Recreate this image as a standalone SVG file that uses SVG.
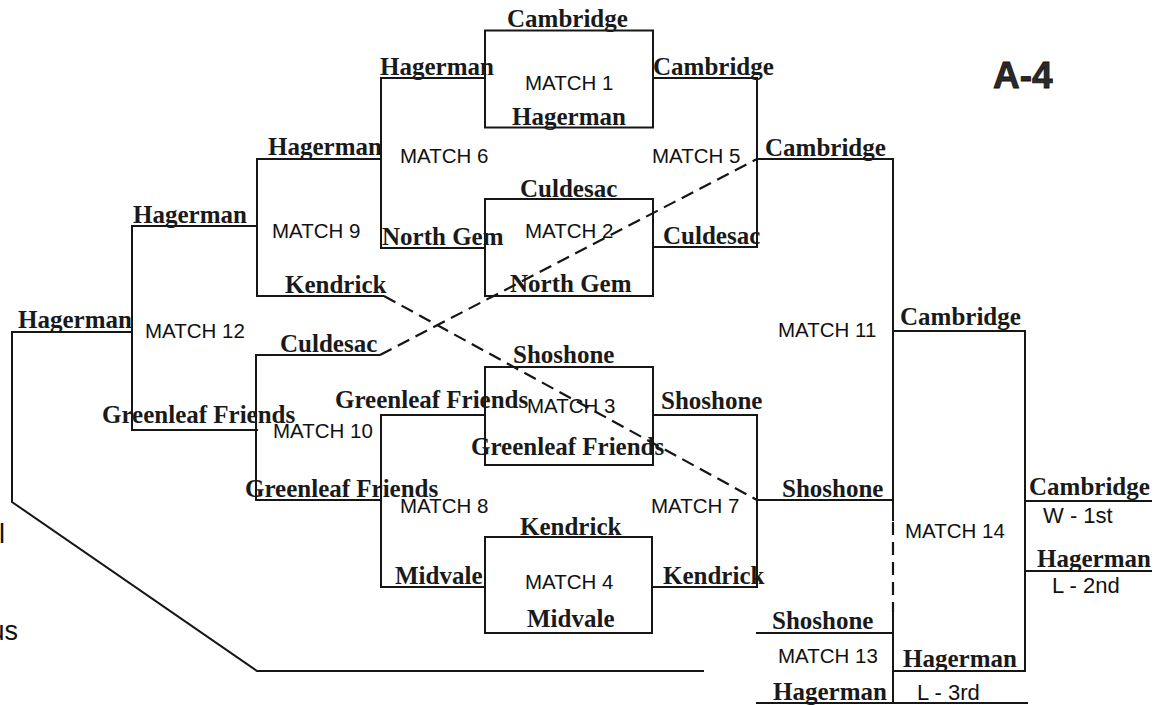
<svg xmlns="http://www.w3.org/2000/svg" width="1169" height="705" viewBox="0 0 1169 705">
<style>
.ln{fill:none;stroke:#161616;stroke-width:2;stroke-linejoin:miter;stroke-linecap:square}
.dash{fill:none;stroke:#161616;stroke-width:2.2;stroke-dasharray:13 7}
.box{fill:none;stroke:#161616;stroke-width:2}
.team{font-family:"Liberation Serif","Times New Roman",serif;font-weight:bold;font-size:25px;fill:#1a1a1a}
.m{font-family:"Liberation Sans",Arial,sans-serif;font-size:20.5px;fill:#111}
.r{font-family:"Liberation Sans",Arial,sans-serif;font-size:22px;fill:#111}
</style>
<rect width="1169" height="705" fill="#fff"/>

<g id="connectors">
<path class="ln" d="M485,78 H381 V248 H485"/>
<path class="ln" d="M653,78 H757 V247 H653"/>
<path class="ln" d="M757,159 H893"/>
<path class="ln" d="M381,159 H257 V296 H383"/>
<path class="ln" d="M257,226 H132 V430 H257"/>
<path class="ln" d="M132,332 H12 V502 L257,671 H703"/>
<path class="ln" d="M379,355 H256 V500 H381"/>
<path class="ln" d="M485,415 H381 V587 H485"/>
<path class="ln" d="M653,415 H757 V587 H653"/>
<path class="ln" d="M757,500 H893"/>
<path class="ln" d="M893,159 V520"/>
<path class="ln" d="M893,612 V703"/>
<path class="dash" d="M893,522 V612"/>
<path class="ln" d="M893,331 H1025 V671 H893"/>
<path class="ln" d="M1025,501 H1151"/>
<path class="ln" d="M1025,571 H1151"/>
<path class="ln" d="M757,633 H893"/>
<path class="ln" d="M757,703 H1027"/>
<path class="dash" d="M380,355 L757,159"/>
<path class="dash" d="M384,296 L757,500"/>
</g>

<g id="match1">
<rect class="box" x="485" y="30.5" width="168" height="97"/>
<text class="team" x="507" y="27">Cambridge</text>
<text class="m" x="525" y="90">MATCH 1</text>
<text class="team" x="512" y="125">Hagerman</text>
</g>
<g id="match2">
<rect class="box" x="485" y="199" width="168" height="97"/>
<text class="team" x="520" y="197">Culdesac</text>
<text class="m" x="525" y="238">MATCH 2</text>
<text class="team" x="510" y="292">North Gem</text>
</g>
<g id="match3">
<rect class="box" x="485" y="367" width="168" height="98"/>
<text class="team" x="513" y="363">Shoshone</text>
<text class="m" x="527" y="413">MATCH 3</text>
<text class="team" x="471" y="455">Greenleaf Friends</text>
</g>
<g id="match4">
<rect class="box" x="485" y="537" width="167" height="96"/>
<text class="team" x="520" y="535">Kendrick</text>
<text class="m" x="525" y="589">MATCH 4</text>
<text class="team" x="527" y="627">Midvale</text>
</g>
<g id="match5">
<text class="team" x="653" y="75">Cambridge</text>
<text class="m" x="652" y="163">MATCH 5</text>
<text class="team" x="663" y="244">Culdesac</text>
</g>
<g id="match6">
<text class="team" x="380" y="75">Hagerman</text>
<text class="m" x="400" y="163">MATCH 6</text>
<text class="team" x="382" y="245">North Gem</text>
</g>
<g id="match7">
<text class="team" x="661" y="409">Shoshone</text>
<text class="m" x="651" y="513">MATCH 7</text>
<text class="team" x="663" y="584">Kendrick</text>
</g>
<g id="match8">
<text class="team" x="335" y="408">Greenleaf Friends</text>
<text class="m" x="400" y="513">MATCH 8</text>
<text class="team" x="395" y="584">Midvale</text>
</g>
<g id="match9">
<text class="team" x="268" y="155">Hagerman</text>
<text class="m" x="272" y="238">MATCH 9</text>
<text class="team" x="285" y="293">Kendrick</text>
</g>
<g id="match10">
<text class="team" x="280" y="352">Culdesac</text>
<text class="m" x="273" y="438">MATCH 10</text>
<text class="team" x="245" y="497">Greenleaf Friends</text>
</g>
<g id="match11">
<text class="team" x="765" y="156">Cambridge</text>
<text class="m" x="778" y="337">MATCH 11</text>
<text class="team" x="782" y="497">Shoshone</text>
</g>
<g id="match12">
<text class="team" x="133" y="223">Hagerman</text>
<text class="m" x="145" y="338">MATCH 12</text>
<text class="team" x="102" y="423">Greenleaf Friends</text>
<text class="team" x="18" y="328">Hagerman</text>
</g>
<g id="match13">
<text class="team" x="772" y="629">Shoshone</text>
<text class="m" x="778" y="663">MATCH 13</text>
<text class="team" x="773" y="700">Hagerman</text>
<text class="r" x="917" y="700">L - 3rd</text>
</g>
<g id="match14">
<text class="team" x="900" y="325">Cambridge</text>
<text class="m" x="905" y="538">MATCH 14</text>
<text class="team" x="903" y="667">Hagerman</text>
</g>
<g id="results">
<text class="team" x="1029" y="495">Cambridge</text>
<text class="r" x="1043" y="523">W - 1st</text>
<text class="team" x="1037" y="567">Hagerman</text>
<text class="r" x="1052" y="593">L - 2nd</text>
</g>
<g id="title">
<text x="993" y="88" font-family="Liberation Sans,Arial,sans-serif" font-weight="bold" font-size="37" fill="#2a2a2a" stroke="#111" stroke-width="0.8">A-4</text>
</g>
<g id="edge-text">
<text x="-1" y="543" font-family="Liberation Sans,Arial,sans-serif" font-size="27" fill="#111">l</text>
<text x="-10.5" y="640" font-family="Liberation Sans,Arial,sans-serif" font-size="27" fill="#111">us</text>
</g>
</svg>
